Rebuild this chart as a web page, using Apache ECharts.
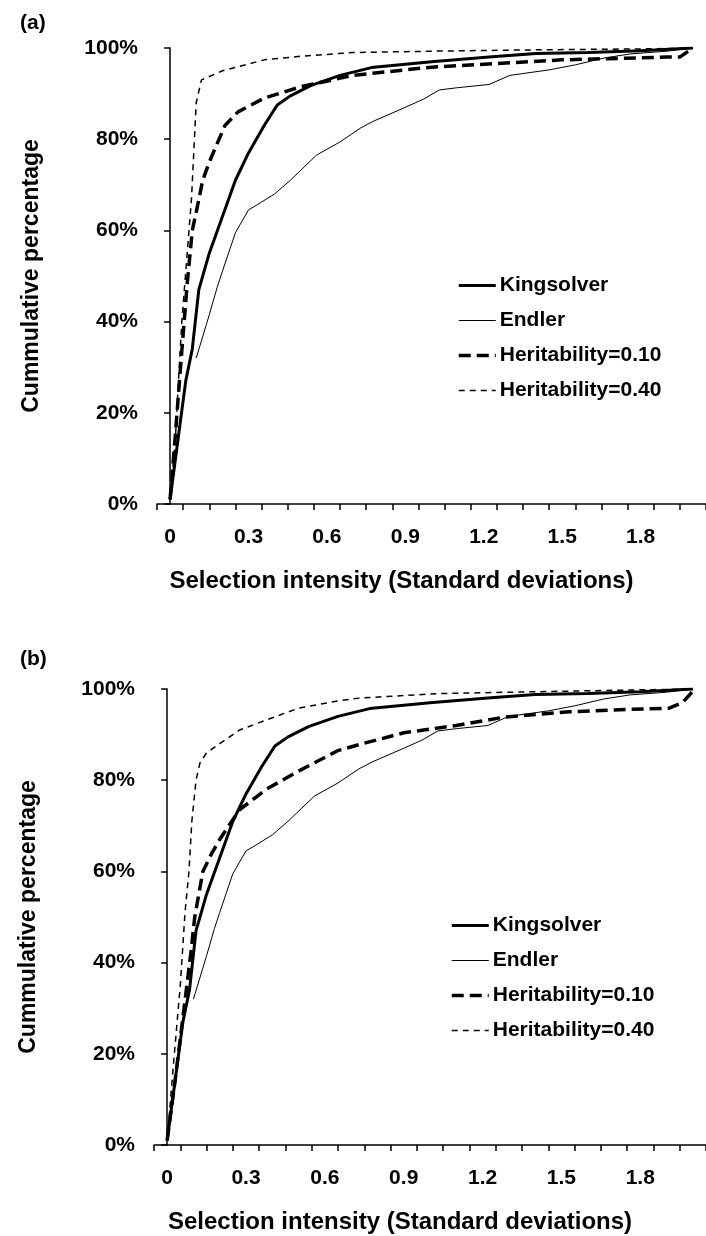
<!DOCTYPE html>
<html>
<head>
<meta charset="utf-8">
<script src="https://cdn.jsdelivr.net/npm/echarts@6/dist/echarts.min.js"></script>
<style>
  html, body { margin: 0; padding: 0; background: #fff; }
  #chart { width: 706px; height: 1236px; }
</style>
</head>
<body>
<div id="chart"></div>
<script>
// x axis categories (0.1 SD bins), labels shown every 0.3
const xCategories = ['0', '0.1', '0.2', '0.3', '0.4', '0.5', '0.6', '0.7', '0.8', '0.9', '1.0',
  '1.1', '1.2', '1.3', '1.4', '1.5', '1.6', '1.7', '1.8', '1.9', '2.0'];

// empirical distributions (same in both panels): [SD, cumulative %]
const kingsolver = [[0, 1], [0.06, 27], [0.085, 34], [0.11, 47], [0.15, 55], [0.2, 63], [0.25, 71],
  [0.3, 77], [0.36, 83], [0.41, 87.5], [0.46, 89.5], [0.54, 91.8], [0.65, 94], [0.77, 95.7],
  [1.0, 97], [1.22, 98], [1.4, 98.8], [1.6, 99], [1.8, 99.4], [2.0, 100]];
const endler = [[0.1, 32], [0.15, 41.5], [0.18, 47.5], [0.2, 51], [0.25, 59.5], [0.3, 64.5],
  [0.33, 65.5], [0.4, 68], [0.46, 71], [0.56, 76.5], [0.65, 79.4], [0.73, 82.5], [0.78, 84],
  [0.9, 87], [0.97, 88.8], [1.03, 90.8], [1.1, 91.3], [1.22, 92], [1.3, 94], [1.45, 95.2],
  [1.55, 96.3], [1.66, 97.8], [1.76, 98.7], [1.9, 99.3], [2.0, 100]];

// panel (a) simulations
const herit10A = [[0, 1], [0.02, 15], [0.04, 30], [0.065, 48], [0.085, 60], [0.1, 64], [0.125, 71],
  [0.15, 75], [0.21, 83], [0.26, 86], [0.36, 89], [0.5, 91.5], [0.7, 94], [1.0, 95.8],
  [1.5, 97.4], [1.9, 98], [1.95, 98], [2.0, 100]];
const herit40A = [[0, 1], [0.02, 14], [0.035, 30], [0.045, 40], [0.056, 48], [0.082, 67], [0.1, 88],
  [0.12, 93], [0.2, 95], [0.36, 97.4], [0.5, 98.2], [0.7, 99], [1.0, 99.3], [1.4, 99.6],
  [1.8, 99.8], [2.0, 100]];

// panel (b) simulations
const herit10B = [[0, 1], [0.03, 14], [0.06, 28], [0.09, 42], [0.105, 50], [0.136, 60], [0.17, 64],
  [0.2, 67], [0.275, 73.5], [0.377, 78], [0.5, 82], [0.65, 86.5], [0.73, 87.8], [0.9, 90.4],
  [1.1, 92], [1.28, 93.8], [1.53, 95], [1.75, 95.5], [1.91, 95.8], [1.96, 97], [2.0, 99.5]];
const herit40B = [[0, 1], [0.023, 17], [0.05, 35], [0.068, 51], [0.083, 60], [0.094, 71], [0.11, 80],
  [0.125, 83.8], [0.15, 86], [0.2, 88], [0.275, 91], [0.377, 93.2], [0.5, 95.8], [0.65, 97.4],
  [0.73, 98], [1.03, 99], [1.4, 99.4], [1.78, 99.8], [2.0, 100]];

const seriesNames = ['Kingsolver', 'Endler', 'Heritability=0.10', 'Heritability=0.40'];

const FONT = 'Liberation Sans, Arial, sans-serif';
const black = '#000';

function catAxis(grid) {
  return {
    type: 'category', gridIndex: grid, data: xCategories, boundaryGap: true,
    name: 'Selection intensity (Standard deviations)', nameLocation: 'middle', nameGap: 65,
    nameTextStyle: { fontFamily: FONT, fontWeight: 'bold', fontSize: 24, color: black, padding: [0, 60, 0, 0] },
    axisLine: { lineStyle: { color: black, width: 1.5 } },
    axisTick: { show: true, interval: 0, length: 6, lineStyle: { color: black, width: 1.5 } },
    axisLabel: { interval: 2, margin: 23, fontFamily: FONT, fontWeight: 'bold', fontSize: 21, color: black },
    splitLine: { show: false }
  };
}
function valAxis(grid) {
  return { type: 'value', gridIndex: grid, min: -0.05, max: 2.05, show: false };
}
function yAxis(grid) {
  return {
    type: 'value', gridIndex: grid, min: 0, max: 100, interval: 20,
    name: 'Cummulative percentage', nameLocation: 'middle', nameGap: 114, nameRotate: 90,
    nameTextStyle: { fontFamily: FONT, fontWeight: 'bold', fontSize: 23, color: black },
    axisLine: { show: true, lineStyle: { color: black, width: 1.5 } },
    axisTick: { show: true, length: 6, lineStyle: { color: black, width: 1.5 } },
    axisLabel: { formatter: '{value}%', margin: 19, fontFamily: FONT, fontWeight: 'bold', fontSize: 21, color: black },
    splitLine: { show: false }
  };
}

const styles = [
  { width: 3, type: 'solid' },
  { width: 1, type: 'solid' },
  { width: 3.5, type: [12, 6] },
  { width: 1.5, type: [6, 5] }
];

function panelSeries(xIdx, yIdx, sets) {
  return sets.map((d, i) => ({
    name: seriesNames[i], type: 'line', xAxisIndex: xIdx, yAxisIndex: yIdx,
    data: d, symbol: 'none', showSymbol: false, animation: false,
    itemStyle: { color: black },
    lineStyle: { color: black, width: styles[i].width, type: styles[i].type }
  }));
}

function legend(left, top) {
  return {
    orient: 'vertical', left: left, top: top, padding: 0,
    data: seriesNames.map((n, i) => ({
      name: n,
      itemStyle: { opacity: 0 },
      lineStyle: { color: black, width: styles[i].width, type: styles[i].type, dashOffset: 0 }
    })),
    itemWidth: 37, itemHeight: 20, itemGap: 14, selectedMode: false,
    itemStyle: { opacity: 0 },
    textStyle: { fontFamily: FONT, fontWeight: 'bold', fontSize: 21, color: black, padding: [0, 0, 0, -1] }
  };
}

const chart = echarts.init(document.getElementById('chart'), null, { renderer: 'canvas' });
chart.setOption({
  backgroundColor: '#fff',
  animation: false,
  title: [
    { text: '(a)', left: 15, top: 8, textStyle: { fontFamily: FONT, fontWeight: 'bold', fontSize: 21, color: black } },
    { text: '(b)', left: 15, top: 644, textStyle: { fontFamily: FONT, fontWeight: 'bold', fontSize: 21, color: black } }
  ],
  legend: [legend(457, 275), legend(450, 915)],
  grid: [
    { left: 157, top: 48, width: 561, height: 456 },
    { left: 154, top: 689, width: 556, height: 456 }
  ],
  xAxis: [catAxis(0), valAxis(0), catAxis(1), valAxis(1)],
  yAxis: [yAxis(0), yAxis(1)],
  series: [
    ...panelSeries(1, 0, [kingsolver, endler, herit10A, herit40A]),
    ...panelSeries(3, 1, [kingsolver, endler, herit10B, herit40B])
  ]
});
</script>
</body>
</html>
